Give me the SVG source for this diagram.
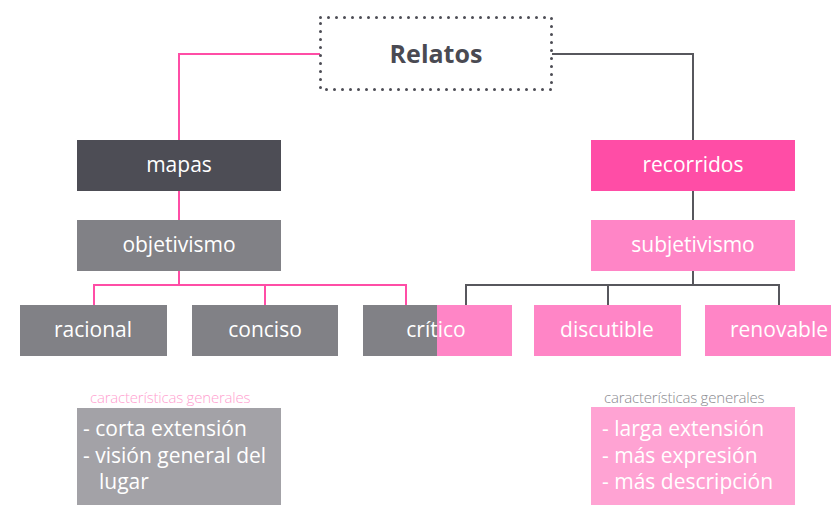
<svg xmlns="http://www.w3.org/2000/svg" width="831" height="505" viewBox="0 0 831 505">
<style>
.t{font-family:"Open Sans","Noto Sans",sans-serif;font-size:21px;fill:#ffffff;text-anchor:middle}
.d{font-family:"Open Sans","Noto Sans",sans-serif;font-size:21px;fill:#ffffff}
.s{font-family:"Open Sans","Noto Sans",sans-serif;font-size:15px;font-weight:300;letter-spacing:-0.2px}
.pk{fill:none;stroke:#ff4da6;stroke-width:2}
.gy{fill:none;stroke:#57575d;stroke-width:2}
.dark{fill:#4d4d55}.mid{fill:#818186}.hot{fill:#ff4da6}.soft{fill:#ff85c6}
</style>
<rect width="831" height="505" fill="#ffffff"/>
<g id="connectors">
<path class="pk" d="M320,54 H179 V140"/>
<path class="pk" d="M179,191 V220"/>
<path class="pk" d="M179,271 V285 M94,305 V285 H406 V305 M265,285 V305"/>
<path class="gy" d="M552,54 H693 V140"/>
<path class="gy" d="M693,191 V220"/>
<path class="gy" d="M693,271 V285 M466,305 V285 H779 V305 M608,285 V305"/>
</g>
<g id="relatos">
<rect x="320.5" y="17.5" width="231" height="72" fill="none" stroke="#4d4d55" stroke-width="3" stroke-dasharray="0 8" stroke-linecap="round"/>
<text x="436" y="63" font-family="Open Sans,Noto Sans,sans-serif" font-size="25" font-weight="bold" fill="#4a4a52" text-anchor="middle">Relatos</text>
</g>
<g id="mapas"><rect class="dark" x="77" y="140" width="204" height="51"/><text class="t" x="179" y="172">mapas</text></g>
<g id="objetivismo"><rect class="mid" x="77" y="220" width="204" height="51"/><text class="t" x="179" y="252">objetivismo</text></g>
<g id="recorridos"><rect class="hot" x="591" y="140" width="204" height="51"/><text class="t" x="693" y="172">recorridos</text></g>
<g id="subjetivismo"><rect class="soft" x="591" y="220" width="204" height="51"/><text class="t" x="693" y="252">subjetivismo</text></g>
<g id="racional"><rect class="mid" x="20" y="305" width="147" height="51"/><text class="t" x="93" y="337">racional</text></g>
<g id="conciso"><rect class="mid" x="192" y="305" width="146" height="51"/><text class="t" x="265" y="337">conciso</text></g>
<g id="critico"><rect class="mid" x="363" y="305" width="74" height="51"/><rect class="soft" x="437" y="305" width="75" height="51"/><text class="t" x="436" y="337">crítico</text></g>
<g id="discutible"><rect class="soft" x="534" y="305" width="147" height="51"/><text class="t" x="607" y="337">discutible</text></g>
<g id="renovable"><rect class="soft" x="705" y="305" width="126" height="51"/><text class="t" x="779" y="337">renovable</text></g>
<g id="caract-mapas">
<text class="s" x="90" y="403" fill="#ff9fd0">características generales</text>
<rect x="77" y="408" width="204" height="97" fill="#a3a2a7"/>
<text class="d" x="83" y="436">- corta extensión</text>
<text class="d" x="83" y="463">- visión general del</text>
<text class="d" x="99" y="489">lugar</text>
</g>
<g id="caract-recorridos">
<text class="s" x="604" y="403" fill="#8a8a8f">características generales</text>
<rect x="591" y="407" width="204" height="98" fill="#ffa3d3"/>
<text class="d" x="602" y="436">- larga extensión</text>
<text class="d" x="602" y="463">- más expresión</text>
<text class="d" x="602" y="489">- más descripción</text>
</g>
</svg>
